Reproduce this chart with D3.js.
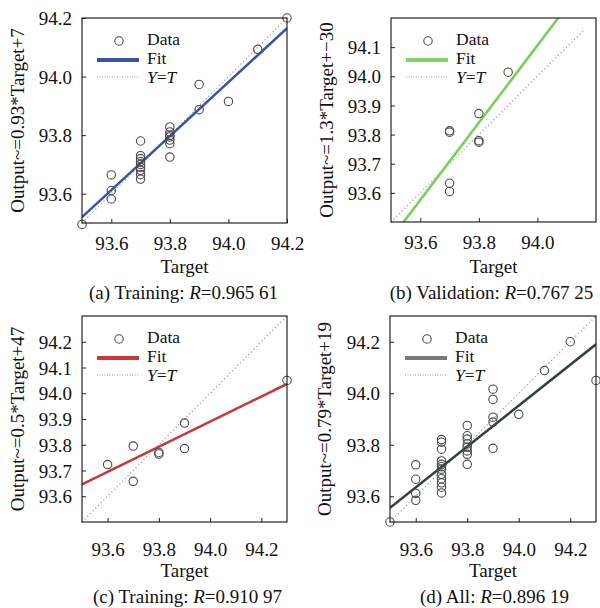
<!DOCTYPE html>
<html><head><meta charset="utf-8">
<script src="https://cdn.jsdelivr.net/npm/d3@7"></script>
<style>body{margin:0;background:#fff}svg{display:block}svg text{font-family:"Liberation Serif","Times New Roman",Times,serif;fill:#111}</style>
</head><body>
<svg id="chart" width="600" height="608" font-family="Liberation Serif, Times New Roman, serif"></svg>
<script>
// ---- data ----
const trainingTarget = [93.5, 93.6,93.6,93.6, 93.7,93.7,93.7,93.7,93.7,93.7,93.7,93.7,93.7, 93.8,93.8,93.8,93.8,93.8,93.8,93.8, 93.9,93.9, 94.0, 94.1, 94.2];
const trainingOutput = [93.495, 93.664,93.611,93.582, 93.78,93.73,93.72,93.71,93.70,93.69,93.68,93.665,93.65, 93.828,93.811,93.80,93.794,93.783,93.771,93.725, 93.973,93.887, 93.915, 94.093, 94.2];
const validationTarget = [93.7,93.7,93.7,93.7, 93.8,93.8,93.8, 93.9];
const validationOutput = [93.813,93.808,93.633,93.605, 93.872,93.779,93.774, 94.014];
const testTarget = [93.6, 93.7,93.7, 93.8,93.8, 93.9,93.9, 94.3];
const testOutput = [93.723, 93.795,93.658, 93.77,93.764, 93.884,93.785, 94.05];
const allTarget = [93.5, 93.6,93.6,93.6,93.6, 93.7,93.7,93.7,93.7,93.7,93.7,93.7,93.7,93.7,93.7,93.7,93.7, 93.8,93.8,93.8,93.8,93.8,93.8,93.8,93.8, 93.9,93.9,93.9,93.9,93.9, 94.0, 94.1, 94.2, 94.3];
const allOutput = [93.5, 93.722,93.666,93.611,93.584, 93.82,93.81,93.783,93.737,93.724,93.715,93.705,93.685,93.668,93.652,93.635,93.613, 93.875,93.835,93.822,93.803,93.79,93.776,93.763,93.724, 94.016,93.976,93.907,93.888,93.786, 93.918, 94.088, 94.2, 94.05];

// fit lines: [target, output] at two ends
const fitTraining = [[93.5, 93.52], [94.2, 94.165]];
const fitValidation = [[93.5, 93.443], [94.2, 94.371]];
const fitTest = [[93.5, 93.646], [94.3, 94.036]];
const fitAll = [[93.5, 93.555], [94.3, 94.19]];

// Y=T extents
const identTraining = [93.5, 94.2];
const identValidation = [93.5, 94.16];
const identTest = [93.5, 94.3];
const identAll = [93.5, 94.3];

// ticks
const ticksA_x = [93.6, 93.8, 94.0, 94.2], ticksA_y = [93.6, 93.8, 94.0, 94.2];
const ticksB_x = [93.6, 93.8, 94.0], ticksB_y = [93.6, 93.7, 93.8, 93.9, 94.0, 94.1];
const ticksC_x = [93.6, 93.8, 94.0, 94.2], ticksC_y = [93.6, 93.7, 93.8, 93.9, 94.0, 94.1, 94.2];
const ticksD_x = [93.6, 93.8, 94.0, 94.2], ticksD_y = [93.6, 93.8, 94.0, 94.2];

const domainAB = [93.5, 94.2], domainCD = [93.5, 94.3];

const yLabels = ["Output~=0.93*Target+7", "Output~=1.3*Target+\u221230", "Output~=0.5*Target+47", "Output~=0.79*Target+19"];
const captionPrefix = ["(a) Training: ", "(b) Validation: ", "(c) Training: ", "(d) All: "];
const captionValue = ["=0.965 61", "=0.767 25", "=0.910 97", "=0.896 19"];

// ---- layout ----
const panels = [
  {x: trainingTarget, y: trainingOutput, fit: fitTraining, ident: identTraining, dom: domainAB, tx: ticksA_x, ty: ticksA_y,
   box: {l: 82, r: 287, t: 18, b: 223}, tickOff: 27, titleY: 273, capY: 299, capX: 183.5, ylX: 24, color: "#3a55a6", legColor: "#3a55a6"},
  {x: validationTarget, y: validationOutput, fit: fitValidation, ident: identValidation, dom: domainAB, tx: ticksB_x, ty: ticksB_y,
   box: {l: 391, r: 596, t: 18, b: 222}, tickOff: 27, titleY: 273, capY: 299, capX: 491.5, ylX: 333, color: "#78cf5a", legColor: "#82d266"},
  {x: testTarget, y: testOutput, fit: fitTest, ident: identTest, dom: domainCD, tx: ticksC_x, ty: ticksC_y,
   box: {l: 82, r: 287, t: 316, b: 522}, tickOff: 34, titleY: 577, capY: 603, capX: 187.5, ylX: 24, color: "#c9373a", legColor: "#c9373a"},
  {x: allTarget, y: allOutput, fit: fitAll, ident: identAll, dom: domainCD, tx: ticksD_x, ty: ticksD_y,
   box: {l: 390, r: 596, t: 316, b: 522}, tickOff: 34, titleY: 577, capY: 603, capX: 494.5, ylX: 331, color: "#354242", legColor: "#7a7a7a"}
];

const svg = d3.select("#chart");
const FS = 19, LFS = 17.5;
const SERIF = "Liberation Serif, Times New Roman, serif";

panels.forEach((p, i) => {
  const B = p.box;
  const xs = d3.scaleLinear().domain(p.dom).range([B.l, B.r]);
  const ys = d3.scaleLinear().domain(p.dom).range([B.b, B.t]);
  const g = svg.append("g");
  const clipId = "clip" + i;
  svg.append("clipPath").attr("id", clipId).append("rect")
    .attr("x", B.l).attr("y", B.t).attr("width", B.r - B.l).attr("height", B.b - B.t);

  // Y=T dotted
  g.append("line")
    .attr("x1", xs(p.ident[0])).attr("y1", ys(p.ident[0]))
    .attr("x2", xs(p.ident[1])).attr("y2", ys(p.ident[1]))
    .attr("stroke", "#999").attr("stroke-width", 1.2).attr("stroke-dasharray", "1.2,2.6");

  // fit line
  g.append("line").attr("clip-path", `url(#${clipId})`)
    .attr("x1", xs(p.fit[0][0])).attr("y1", ys(p.fit[0][1]))
    .attr("x2", xs(p.fit[1][0])).attr("y2", ys(p.fit[1][1]))
    .attr("stroke", p.color).attr("stroke-width", 2.6);

  // data circles
  g.selectAll("circle.pt").data(p.x.map((v, k) => [v, p.y[k]])).join("circle")
    .attr("class", "pt")
    .attr("cx", d => xs(d[0])).attr("cy", d => ys(d[1])).attr("r", 4.2)
    .attr("fill", "none").attr("stroke", "#4a4a4a").attr("stroke-width", 1.1);

  // axes (inward ticks)
  const xAxis = d3.axisBottom(xs).tickValues(p.tx).tickFormat(d3.format(".1f")).tickSizeInner(-4).tickSizeOuter(0);
  const yAxis = d3.axisLeft(ys).tickValues(p.ty).tickFormat(d3.format(".1f")).tickSizeInner(-4).tickSizeOuter(0);
  const gx = g.append("g").attr("transform", `translate(0,${B.b})`).call(xAxis);
  const gy = g.append("g").attr("transform", `translate(${B.l},0)`).call(yAxis);
  [gx, gy].forEach(a => {
    a.attr("font-family", SERIF).attr("font-size", FS);
    a.select(".domain").remove();
    a.selectAll("line").attr("stroke", "#222");
    a.selectAll("text").attr("fill", "#111");
  });
  gx.selectAll("text").attr("dy", null).attr("y", p.tickOff);
  gy.selectAll("text").attr("x", -10).attr("dy", "0.35em");

  // frame
  g.append("rect").attr("x", B.l).attr("y", B.t).attr("width", B.r - B.l).attr("height", B.b - B.t)
    .attr("fill", "none").attr("stroke", "#111").attr("stroke-width", 1.1);

  // legend
  const lx = B.l, ly = B.t;
  g.append("circle").attr("cx", lx + 37).attr("cy", ly + 23).attr("r", 4.2)
    .attr("fill", "none").attr("stroke", "#4a4a4a").attr("stroke-width", 1.1);
  g.append("line").attr("x1", lx + 15).attr("x2", lx + 57).attr("y1", ly + 42).attr("y2", ly + 42)
    .attr("stroke", p.legColor).attr("stroke-width", 4);
  g.append("line").attr("x1", lx + 15).attr("x2", lx + 57).attr("y1", ly + 59).attr("y2", ly + 59)
    .attr("stroke", "#9a9a9a").attr("stroke-width", 1.2).attr("stroke-dasharray", "1,1.5");
  const lt = g.append("g").attr("font-size", LFS);
  lt.append("text").attr("x", lx + 65).attr("y", ly + 27).text("Data");
  lt.append("text").attr("x", lx + 65).attr("y", ly + 46).text("Fit");
  const yt = lt.append("text").attr("x", lx + 65).attr("y", ly + 65);
  yt.append("tspan").attr("font-style", "italic").text("Y");
  yt.append("tspan").text("=");
  yt.append("tspan").attr("font-style", "italic").text("T");

  // axis titles
  g.append("text").attr("x", (B.l + B.r) / 2).attr("y", p.titleY).attr("text-anchor", "middle")
    .attr("font-size", FS).text("Target");
  g.append("text").attr("transform", `translate(${p.ylX},${(B.t + B.b) / 2}) rotate(-90)`)
    .attr("text-anchor", "middle").attr("font-size", FS).text(yLabels[i]);

  // caption
  const cap = g.append("text").attr("x", p.capX).attr("y", p.capY).attr("text-anchor", "middle").attr("font-size", FS);
  cap.append("tspan").text(captionPrefix[i]);
  cap.append("tspan").attr("font-style", "italic").text("R");
  cap.append("tspan").text(captionValue[i]);
});
</script>
</body></html>
